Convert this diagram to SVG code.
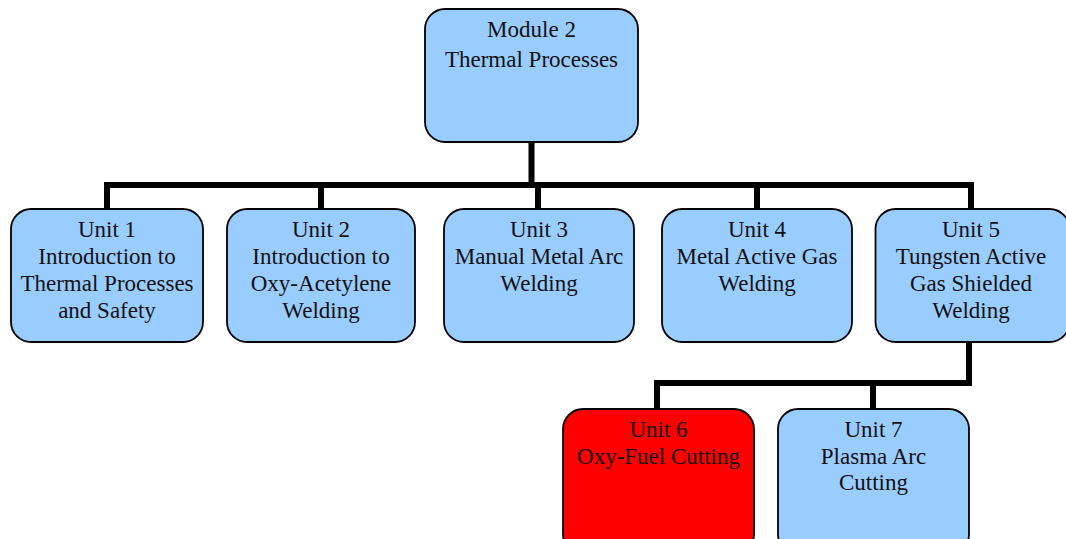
<svg xmlns="http://www.w3.org/2000/svg" width="1066" height="539" viewBox="0 0 1066 539">
<style>
.box{fill:#99CCFF;stroke:#000;stroke-width:1.8}
.red{fill:#FF0000;stroke:#000;stroke-width:1.8}
.lbl{font-family:"Liberation Serif","Times New Roman",serif;font-size:23px;fill:#111;text-anchor:middle}
.con{fill:none;stroke:#000;stroke-width:6;stroke-linejoin:miter;stroke-linecap:butt}
</style>
<rect width="1066" height="539" fill="#fff"/>
<g id="connectors">
<path class="con" d="M531.5 142V185M107 209V185H974M321 185V209M538 185V209M757 185V209M971 185V209"/>
<path class="con" d="M969 342V383H657V409M873 383V409"/>
</g>
<g id="module2">
<rect class="box" x="425" y="9" width="213" height="133" rx="20"/>
<text class="lbl" x="531.5" y="37">Module 2</text>
<text class="lbl" x="531.5" y="66.5">Thermal Processes</text>
</g>
<g id="unit1">
<rect class="box" x="11" y="209" width="192" height="133" rx="20"/>
<text class="lbl" x="107" y="237">Unit 1</text>
<text class="lbl" x="107" y="264">Introduction to</text>
<text class="lbl" x="107" y="291">Thermal Processes</text>
<text class="lbl" x="107" y="317.5">and Safety</text>
</g>
<g id="unit2">
<rect class="box" x="227" y="209" width="188" height="133" rx="20"/>
<text class="lbl" x="321" y="237">Unit 2</text>
<text class="lbl" x="321" y="264">Introduction to</text>
<text class="lbl" x="321" y="291">Oxy-Acetylene</text>
<text class="lbl" x="321" y="317.5">Welding</text>
</g>
<g id="unit3">
<rect class="box" x="444" y="209" width="190" height="133" rx="20"/>
<text class="lbl" x="539" y="237">Unit 3</text>
<text class="lbl" x="539" y="264">Manual Metal Arc</text>
<text class="lbl" x="539" y="291">Welding</text>
</g>
<g id="unit4">
<rect class="box" x="662" y="209" width="190" height="133" rx="20"/>
<text class="lbl" x="757" y="237">Unit 4</text>
<text class="lbl" x="757" y="264">Metal Active Gas</text>
<text class="lbl" x="757" y="291">Welding</text>
</g>
<g id="unit5">
<rect class="box" x="875.5" y="209" width="194" height="133" rx="20"/>
<text class="lbl" x="971" y="237">Unit 5</text>
<text class="lbl" x="971" y="264">Tungsten Active</text>
<text class="lbl" x="971" y="291">Gas Shielded</text>
<text class="lbl" x="971" y="317.5">Welding</text>
</g>
<g id="unit6">
<rect class="red" x="563" y="409" width="191" height="145" rx="20"/>
<text class="lbl" x="658.5" y="437">Unit 6</text>
<text class="lbl" x="658.5" y="463.5">Oxy-Fuel Cutting</text>
</g>
<g id="unit7">
<rect class="box" x="778" y="409" width="191" height="145" rx="20"/>
<text class="lbl" x="873.5" y="437">Unit 7</text>
<text class="lbl" x="873.5" y="463.5">Plasma Arc</text>
<text class="lbl" x="873.5" y="490">Cutting</text>
</g>
</svg>
